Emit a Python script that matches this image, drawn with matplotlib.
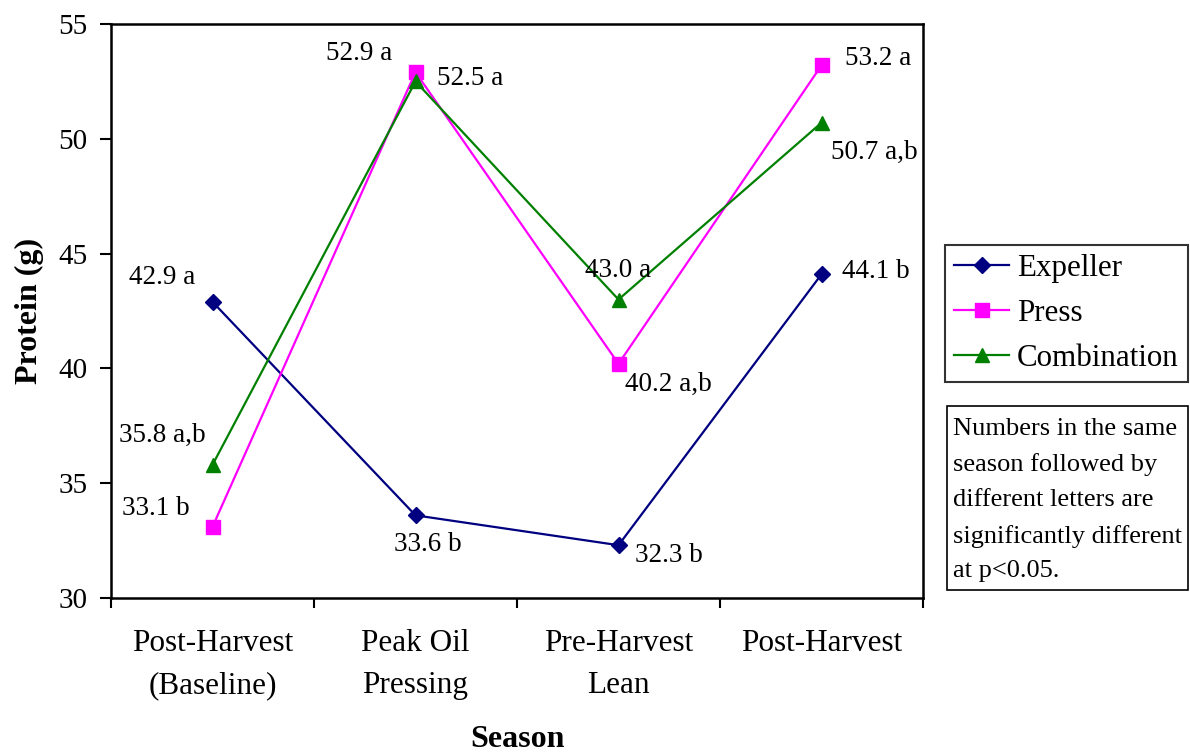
import matplotlib
matplotlib.use('Agg')
import matplotlib.pyplot as plt
from matplotlib.patches import Rectangle

plt.rcParams['font.family'] = ['Liberation Serif', 'DejaVu Serif']

seasons = ['Post-Harvest\n(Baseline)', 'Peak Oil\nPressing', 'Pre-Harvest\nLean', 'Post-Harvest']
expeller = [42.9, 33.6, 32.3, 44.1]
press = [33.1, 52.9, 40.2, 53.2]
combination = [35.8, 52.5, 43.0, 50.7]

expeller_lbl = ['42.9 a', '33.6 b', '32.3 b', '44.1 b']
press_lbl = ['33.1 b', '52.9 a', '40.2 a,b', '53.2 a']
combination_lbl = ['35.8 a,b', '52.5 a', '43.0 a', '50.7 a,b']

# label offsets in pixels (dx, dy)
expeller_off = [(-50, 24), (12, -29), (50, -10), (54, 3)]
press_off = [(-57, 18), (-56, 19), (50, -21), (57, 7)]
combination_off = [(-50, 29), (55, 3), (0, 29), (53, -30)]

fig = plt.figure(figsize=(11.9, 7.53), dpi=100)
ax = fig.add_axes([111/1190, 1-598/753, (923-111)/1190, (598-24)/753])

x = list(range(len(seasons)))
series = [
    ('Expeller', expeller, expeller_lbl, expeller_off, '#000080', 'D', 8),
    ('Press', press, press_lbl, press_off, '#FF00FF', 's', 10),
    ('Combination', combination, combination_lbl, combination_off, '#008000', '^', 10),
]
handles = []
for name, vals, lbls, offs, col, mk, ms in series:
    h, = ax.plot(x, vals, color=col, lw=1.6, marker=mk, markersize=ms,
                 markerfacecolor=col, markeredgecolor=col, label=name)
    handles.append(h)
    for xi, v, t, (dx, dy) in zip(x, vals, lbls, offs):
        ax.annotate(t, (xi, v), xytext=(dx, dy), textcoords='offset pixels',
                    ha='center', va='center', fontsize=19.5)

ax.set_xlim(-0.5, 3.5)
ax.set_ylim(30, 55)
ax.set_yticks([30, 35, 40, 45, 50, 55])
ax.set_xticks([-0.5, 0.5, 1.5, 2.5, 3.5])
ax.set_xticklabels([])
ax.set_xticks(x, minor=True)
ax.set_xticklabels(seasons, minor=True, fontsize=22.5, linespacing=1.62)
ax.tick_params(axis='x', which='major', direction='out', length=7, width=1.5)
ax.tick_params(axis='x', which='minor', length=0, pad=22)
ax.tick_params(axis='y', direction='out', length=8, width=1.5, labelsize=21, pad=9)
for sp in ax.spines.values():
    sp.set_linewidth(1.8)

ax.set_ylabel('Protein (g)', fontsize=23, fontweight='bold', labelpad=10)
ax.set_xlabel('Season', fontsize=23, fontweight='bold', labelpad=18)

leg = fig.legend(handles=handles, loc='upper left',
                 bbox_to_anchor=(945/1190, 1-245/753), borderaxespad=0,
                 fontsize=22.3, frameon=True, fancybox=False, edgecolor='black',
                 handlelength=1.8, handletextpad=0.25, labelspacing=0.52,
                 borderpad=0.28)
leg.get_frame().set_linewidth(1.5)

fig.patches.append(Rectangle((947/1190, 1-590/753), (1188-947)/1190, (590-406)/753,
                             transform=fig.transFigure, fill=False,
                             edgecolor='black', lw=1.2))
fig.text(953/1190, 1-418/753,
         'Numbers in the same\nseason followed by\ndifferent letters are\nsignificantly different\nat p<0.05.',
         ha='left', va='top', fontsize=19, linespacing=1.75)

fig.savefig('out.png', dpi=100)
